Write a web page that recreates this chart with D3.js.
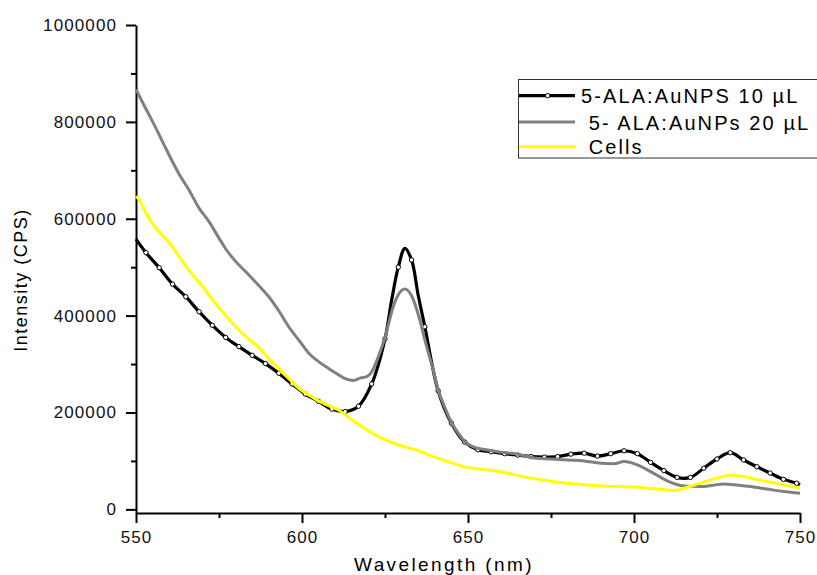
<!DOCTYPE html>
<html>
<head>
<meta charset="utf-8">
<script src="https://cdn.jsdelivr.net/npm/d3@7.9.0/dist/d3.min.js"></script>
<style>
  body { margin: 0; background: #fff; }
  svg { display: block; font-family: Arial, "Liberation Sans", sans-serif; }
  .legend text { white-space: pre; }
</style>
</head>
<body>
<svg id="chart" width="817" height="575"></svg>
<script>
// 5-ALA:AuNPS 10 uL (black, markers every 4 nm from 553)
const nm10 = [550, 553, 557, 561, 565, 569, 573, 577, 581, 585, 589, 593, 597, 601, 605, 609, 613, 617, 621, 625,
  627, 629, 631, 633, 635, 637, 641, 645, 649, 653, 657, 661, 665, 669, 673, 677, 681, 685, 689, 693, 697, 701,
  705, 709, 713, 717, 721, 725, 729, 733, 737, 741, 745, 749, 750];
const cps10 = [558000, 530000, 499000, 465000, 439000, 408000, 380000, 355000, 336000, 318000, 301000, 281000,
  259000, 238000, 223000, 207000, 202000, 213000, 259000, 352000,
  432000, 500000, 539000, 515000, 442000, 377000, 245000, 178000, 139000, 123000, 119000, 115000, 112000,
  109000, 108000, 109000, 114000, 116000, 110000, 115000, 121000, 115000,
  97000, 80000, 66000, 66000, 85000, 104000, 117000, 102000, 88000, 75000, 62000, 54000, 51000];

// 5- ALA:AuNPs 20 uL (grey)
const nm20 = [550, 552, 556, 559, 563, 566, 569, 572, 575, 577, 580, 584, 587, 590, 593, 596, 599, 602, 605, 608,
  611, 613, 615.5, 617.5, 619.5, 621, 623, 625, 627.5, 629, 631, 633, 635.5, 637, 639.5, 641, 642.5, 645, 647,
  649.5, 652, 655.5, 660, 665, 670, 675, 680, 685, 690, 694, 697, 701, 705, 710, 715, 720, 724, 727, 730, 735,
  740, 745, 750];
const cps20 = [867000, 840000, 787000, 745000, 692000, 659000, 622000, 594000, 560000, 538000, 512000, 484000,
  462000, 439000, 410000, 377000, 350000, 323000, 305000, 291000,
  278000, 270000, 266000, 271000, 274000, 284000, 315000, 355000, 419000, 443000, 455000, 441000, 391000,
  350000, 288000, 247000, 219000, 180000, 158000,
  137000, 128000, 123000, 118000, 114000, 106000, 104000, 102000, 100000, 95000, 94000, 99000, 92000, 78000,
  59000, 48500, 47000, 50000, 52500, 51000, 47000, 42000, 37000, 33500];

// Cells (yellow)
const nmCells = [550, 551, 553, 556, 559, 561, 563, 565, 567, 570, 572, 575, 577, 580, 584, 587, 590, 593, 596,
  599, 602, 605, 608, 611, 614, 617, 620, 623, 626, 629, 632, 635, 639.5, 645, 649.5, 655, 659.5, 665, 669.5,
  675, 679.5, 685, 690, 695, 700, 704, 708, 712, 716, 720, 725, 729, 733, 736, 740, 745, 750];
const cpsCells = [646000, 639000, 611000, 580000, 558000, 542000, 521000, 502000, 484000, 460000, 442000, 416000,
  400000, 377000, 351000, 334000, 311000, 290000, 270000,
  250000, 236000, 224000, 214000, 205000, 190000, 175000, 162000, 150000, 141000, 133000, 127000, 121000,
  109000, 96000, 87000, 82000, 78000, 70000, 64000,
  58000, 54000, 51000, 48500, 47000, 46000, 43500, 41700, 38800, 45800, 54100, 64400, 71200, 67700, 63000,
  57400, 50600, 43800];

const legendLabels = ['5-ALA:AuNPS 10 µL', ' 5- ALA:AuNPs 20 µL', ' Cells'];
const xTicks = [550, 600, 650, 700, 750];
const xMinor = [575, 625, 675, 725];
const yTicks = [0, 200000, 400000, 600000, 800000, 1000000];
const yMinor = [100000, 300000, 500000, 700000, 900000];

const svg = d3.select('#chart');

const x = d3.scaleLinear().domain([550, 750]).range([136, 800]);
const y = d3.scaleLinear().domain([-7500, 1000000]).range([513, 25]);

// axes
svg.append('g')
  .attr('transform', 'translate(136,0)')
  .call(d3.axisLeft(y).tickValues(yTicks).tickFormat(d3.format('d')).tickSize(10).tickSizeOuter(0).tickPadding(9));
svg.append('g')
  .attr('transform', 'translate(136,0)')
  .call(d3.axisLeft(y).tickValues(yMinor).tickFormat('').tickSize(5).tickSizeOuter(0))
  .select('.domain').remove();

svg.append('g')
  .attr('transform', 'translate(0,513)')
  .call(d3.axisBottom(x).tickValues(xTicks).tickFormat(d3.format('d')).tickSize(10).tickSizeOuter(0).tickPadding(8));
svg.append('g')
  .attr('transform', 'translate(0,513)')
  .call(d3.axisBottom(x).tickValues(xMinor).tickFormat('').tickSize(5).tickSizeOuter(0))
  .select('.domain').remove();

svg.selectAll('.domain, .tick line').attr('stroke', '#000').attr('stroke-width', 2);
svg.selectAll('.tick text')
  .attr('font-size', 17)
  .attr('letter-spacing', 1.1)
  .attr('fill', '#111')
  .attr('font-family', 'Arial, "Liberation Sans", sans-serif');

// axis titles
svg.append('text')
  .attr('x', 444).attr('y', 571)
  .attr('text-anchor', 'middle')
  .attr('font-size', 19)
  .attr('letter-spacing', 2.4)
  .text('Wavelength (nm)');

svg.append('text')
  .attr('transform', 'translate(27,280) rotate(-90)')
  .attr('text-anchor', 'middle')
  .attr('font-size', 18)
  .attr('letter-spacing', 1.5)
  .text('Intensity (CPS)');

// series
const series = [
  { nm: nm10, cps: cps10, color: '#000', width: 3.2, curve: d3.curveCatmullRom },
  { nm: nm20, cps: cps20, color: '#808080', width: 3, curve: d3.curveMonotoneX },
  { nm: nmCells, cps: cpsCells, color: '#ffff00', width: 3, curve: d3.curveMonotoneX },
];

const line = d3.line().x(d => x(d[0])).y(d => y(d[1]));

series.forEach((s, i) => {
  const pts = d3.zip(s.nm, s.cps);
  svg.append('path')
    .datum(pts)
    .attr('fill', 'none')
    .attr('stroke', s.color)
    .attr('stroke-width', s.width)
    .attr('stroke-linejoin', 'round')
    .attr('d', line.curve(s.curve));

  if (i === 0) {
    svg.append('g').selectAll('circle')
      .data(pts.filter(d => (d[0] - 553) % 4 === 0))
      .join('circle')
      .attr('cx', d => x(d[0]))
      .attr('cy', d => y(d[1]))
      .attr('r', 2.2)
      .attr('fill', '#fff')
      .attr('stroke', '#000')
      .attr('stroke-width', 1);
  }
});

// legend
const legend = svg.append('g').attr('class', 'legend');
legend.append('rect')
  .attr('x', 518.5).attr('y', 79.5)
  .attr('width', 320).attr('height', 78.5)
  .attr('fill', '#fff')
  .attr('stroke', '#333')
  .attr('stroke-width', 1);

const rowY = [95.7, 122, 146.7];
series.forEach((s, i) => {
  legend.append('line')
    .attr('x1', 519).attr('x2', 575)
    .attr('y1', rowY[i]).attr('y2', rowY[i])
    .attr('stroke', s.color)
    .attr('stroke-width', s.width);
  legend.append('text')
    .attr('x', 581).attr('y', rowY[i] + 7.5)
    .attr('font-size', 20)
    .attr('letter-spacing', 2.1)
    .text(legendLabels[i]);
});
legend.append('circle')
  .attr('cx', 547.7).attr('cy', rowY[0])
  .attr('r', 2.2)
  .attr('fill', '#fff')
  .attr('stroke', '#000')
  .attr('stroke-width', 1);
</script>
</body>
</html>
